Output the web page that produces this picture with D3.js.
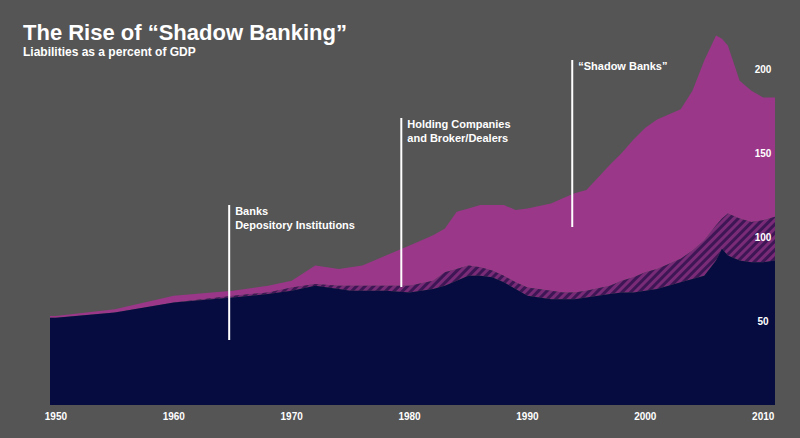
<!DOCTYPE html>
<html><head><meta charset="utf-8">
<script src="https://cdn.jsdelivr.net/npm/d3@7"></script>
<style>body{margin:0;background:#555}svg{display:block;font-family:"Liberation Sans",Arial,sans-serif}</style>
</head><body>
<svg width="800" height="438"></svg>
<script>
const years   = [1949.5,1950,1955,1960,1965,1968,1970,1972,1974,1975,1976,1978,1980,1982,1983,1984,1985,1986,1987,1988,1989,1990,1992,1993,1994,1995,1997,1998,1999,2000,2001,2003,2004,2005,2006,2006.5,2007,2008,2009,2010,2011];
const banks   = [52,52,55,61,64,66,68,71,69,68,68,68,67,69,71,74,77,77,76,73,69,65,63,63,63,64,66,67,67,68,69,73,75,77,86,93,89,86,85,85,86];
const brokers = [52,52,55,61,65,67,70,72,71,71,71,71,71,74,79,81,83,82,80,77,73,70,68,67,67,68,71,74,76,79,81,87,92,98,107,111,114,111,109,110,112];
const total   = [53,53,57,65,68,71,74,83,81,82,83,89,95,101,105,115,117,119,119,119,116,117,120,123,126,128,143,150,158,165,170,176,187,205,220,218,214,193,187,183,183];
const xTicks  = [1950,1960,1970,1980,1990,2000,2010];
const yTicks  = [50,100,150,200];
const notes   = [
  {year:1964.7, top:205, bottom:340, lines:["Banks","Depository Institutions"]},
  {year:1979.3, top:118, bottom:287, lines:["Holding Companies","and Broker/Dealers"]},
  {year:1993.8, top:60,  bottom:227, lines:["\u201cShadow Banks\u201d"]}
];

const svg = d3.select('svg');
const x = d3.scaleLinear().domain([1949.5, 2011]).range([50, 775]);
const y = d3.scaleLinear().domain([0, 200]).range([405, 69]);

const defs = svg.append('defs');
const pat = defs.append('pattern').attr('id','hatch').attr('patternUnits','userSpaceOnUse')
  .attr('width',6).attr('height',6).attr('patternTransform','rotate(45)');
pat.append('rect').attr('width',6).attr('height',6).attr('fill','#3e1655');
pat.append('rect').attr('width',3).attr('height',6).attr('fill','#7a2b78');

const area = (top, bottom) => d3.area()
  .x((d, i) => x(years[i]))
  .y0((d, i) => bottom ? y(bottom[i]) : y(0))
  .y1((d, i) => y(top[i]));

svg.append('path').attr('d', area(total, brokers)(years)).attr('fill', '#9b3789');
svg.append('path').attr('d', area(brokers, banks)(years)).attr('fill', 'url(#hatch)');
svg.append('path').attr('d', area(banks, null)(years)).attr('fill', '#060c3f');

// y labels
svg.selectAll('.yl').data(yTicks).join('text')
  .attr('x', 763).attr('y', d => y(d) + 4).attr('text-anchor','middle')
  .attr('fill','#fff').attr('font-size',10).attr('font-weight','bold').text(d => d);

// x axis labels
svg.selectAll('.xl').data(xTicks).join('text')
  .attr('x', d => x(d)).attr('y', 420).attr('text-anchor','middle')
  .attr('fill','#fff').attr('font-size',10).attr('font-weight','bold').text(d => d);

// annotations
notes.forEach(n => {
  svg.append('line').attr('x1', x(n.year)).attr('x2', x(n.year))
    .attr('y1', n.top).attr('y2', n.bottom).attr('stroke','#fff').attr('stroke-width',2);
  n.lines.forEach((t, i) => svg.append('text')
    .attr('x', x(n.year) + 6).attr('y', n.top + 10 + i * 14)
    .attr('fill','#fff').attr('font-size',11).attr('font-weight','bold').text(t));
});

svg.append('text').attr('x',23).attr('y',40).attr('fill','#fff')
  .attr('font-size',22).attr('font-weight','bold').text('The Rise of \u201cShadow Banking\u201d');
svg.append('text').attr('x',23).attr('y',56).attr('fill','#fff')
  .attr('font-size',12).attr('font-weight','bold').text('Liabilities as a percent of GDP');
</script>
</body></html>
